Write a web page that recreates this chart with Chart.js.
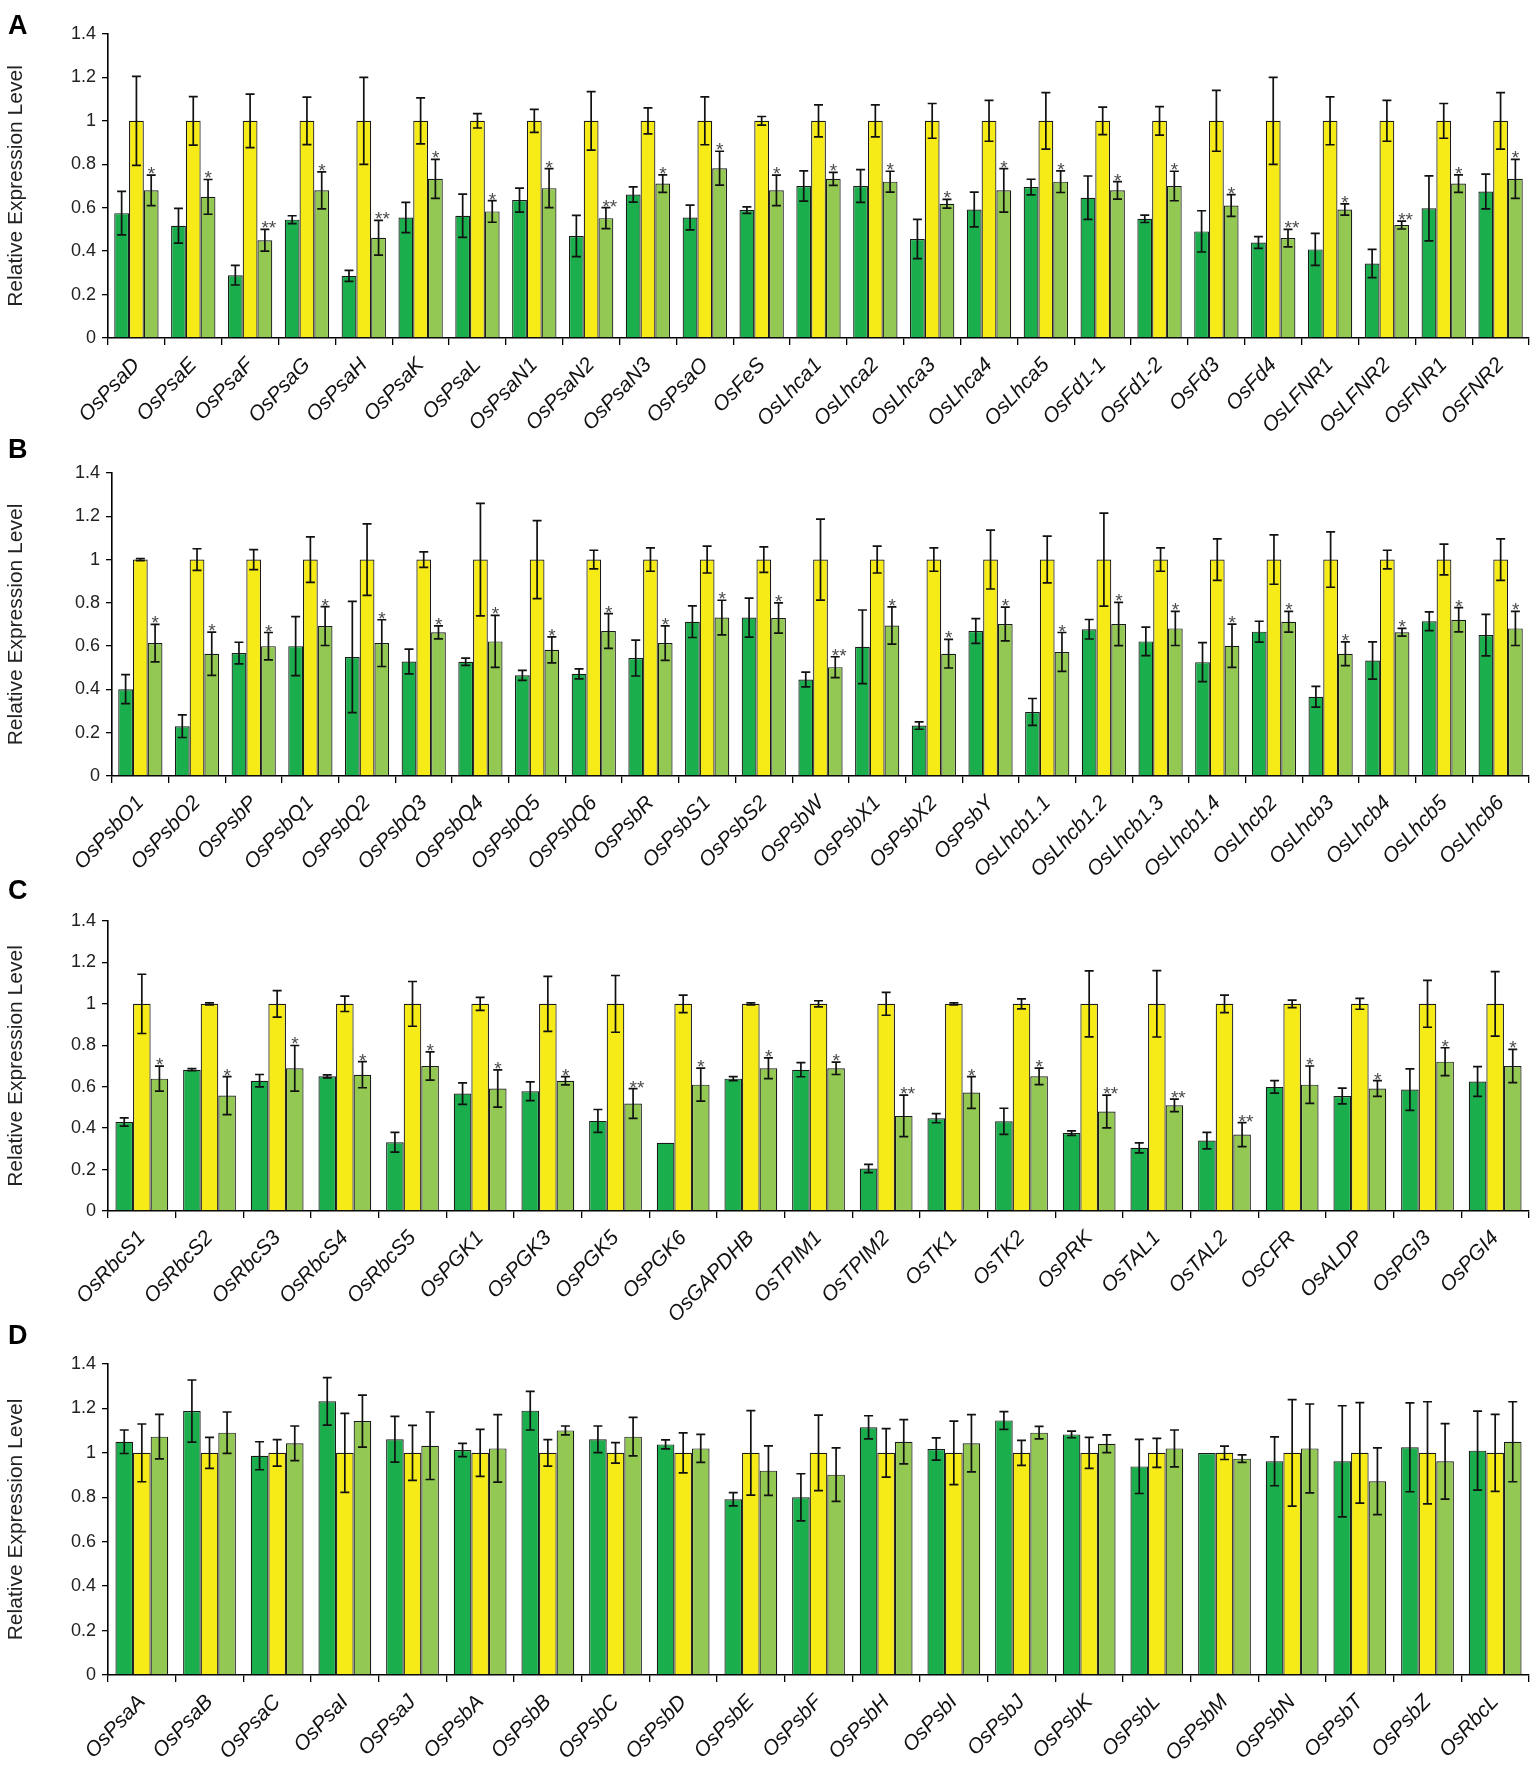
<!DOCTYPE html>
<html>
<head>
<meta charset="utf-8">
<script src="https://cdn.jsdelivr.net/npm/chart.js@4.4.1/dist/chart.umd.min.js"></script>
<style>
	body { margin: 0; background: #fff; }
	#figure { position: relative; width: 1538px; height: 1775px; background: #fff; overflow: hidden; }
	.panel { position: absolute; left: 0; width: 1538px; }
	.letter { position: absolute; left: 8px; font: bold 27px 'Liberation Sans', Arial, sans-serif; line-height: 26px; color: #000; }
</style>
</head>
<body>
<div id="figure">
	<div class="panel" style="top:0px;height:440px"><canvas id="chart-a"></canvas></div>
	<div class="panel" style="top:440px;height:445px"><canvas id="chart-b"></canvas></div>
	<div class="panel" style="top:885px;height:445px"><canvas id="chart-c"></canvas></div>
	<div class="panel" style="top:1330px;height:445px"><canvas id="chart-d"></canvas></div>
	<div class="letter" style="top:12px">A</div>
	<div class="letter" style="top:436px">B</div>
	<div class="letter" style="top:877px">C</div>
	<div class="letter" style="top:1322px">D</div>
</div>
<script>
// panel A
const genesA = ['OsPsaD', 'OsPsaE', 'OsPsaF', 'OsPsaG', 'OsPsaH', 'OsPsaK', 'OsPsaL', 'OsPsaN1', 'OsPsaN2', 'OsPsaN3', 'OsPsaO', 'OsFeS', 'OsLhca1', 'OsLhca2', 'OsLhca3', 'OsLhca4', 'OsLhca5', 'OsFd1-1', 'OsFd1-2', 'OsFd3', 'OsFd4', 'OsLFNR1', 'OsLFNR2', 'OsFNR1', 'OsFNR2']
const firstA = [0.575, 0.517, 0.289, 0.545, 0.286, 0.555, 0.563, 0.635, 0.47, 0.661, 0.555, 0.589, 0.7, 0.7, 0.456, 0.592, 0.695, 0.646, 0.549, 0.491, 0.44, 0.408, 0.343, 0.597, 0.675]
const firstErrA = [0.1, 0.08, 0.045, 0.018, 0.025, 0.07, 0.1, 0.055, 0.095, 0.035, 0.057, 0.015, 0.07, 0.075, 0.09, 0.08, 0.036, 0.1, 0.017, 0.095, 0.027, 0.074, 0.065, 0.15, 0.08]
const secondA = [1, 1, 1, 1, 1, 1, 1, 1, 1, 1, 1, 1, 1, 1, 1, 1, 1, 1, 1, 1, 1, 1, 1, 1, 1]
const secondErrA = [0.205, 0.112, 0.123, 0.109, 0.2, 0.106, 0.033, 0.053, 0.135, 0.06, 0.11, 0.02, 0.074, 0.074, 0.08, 0.094, 0.13, 0.063, 0.066, 0.14, 0.2, 0.11, 0.094, 0.08, 0.13]
const thirdA = [0.68, 0.65, 0.45, 0.68, 0.462, 0.733, 0.583, 0.69, 0.552, 0.711, 0.782, 0.68, 0.733, 0.72, 0.618, 0.68, 0.72, 0.68, 0.7, 0.61, 0.46, 0.592, 0.52, 0.711, 0.733]
const thirdErrA = [0.07, 0.08, 0.05, 0.085, 0.08, 0.09, 0.05, 0.09, 0.048, 0.04, 0.078, 0.07, 0.03, 0.048, 0.02, 0.1, 0.05, 0.04, 0.068, 0.05, 0.04, 0.026, 0.018, 0.04, 0.09]
const starsA = ['*', '*', '**', '*', '**', '*', '*', '*', '**', '*', '*', '*', '*', '*', '*', '*', '*', '*', '*', '*', '**', '*', '**', '*', '*']

// panel B
const genesB = ['OsPsbO1', 'OsPsbO2', 'OsPsbP', 'OsPsbQ1', 'OsPsbQ2', 'OsPsbQ3', 'OsPsbQ4', 'OsPsbQ5', 'OsPsbQ6', 'OsPsbR', 'OsPsbS1', 'OsPsbS2', 'OsPsbW', 'OsPsbX1', 'OsPsbX2', 'OsPsbY', 'OsLhcb1.1', 'OsLhcb1.2', 'OsLhcb1.3', 'OsLhcb1.4', 'OsLhcb2', 'OsLhcb3', 'OsLhcb4', 'OsLhcb5', 'OsLhcb6']
const firstB = [0.401, 0.23, 0.568, 0.6, 0.55, 0.529, 0.528, 0.465, 0.472, 0.545, 0.713, 0.732, 0.446, 0.597, 0.233, 0.67, 0.296, 0.678, 0.622, 0.526, 0.667, 0.366, 0.534, 0.715, 0.651]
const firstErrB = [0.067, 0.052, 0.05, 0.136, 0.257, 0.057, 0.017, 0.023, 0.023, 0.083, 0.073, 0.09, 0.034, 0.17, 0.017, 0.057, 0.062, 0.045, 0.066, 0.09, 0.048, 0.048, 0.086, 0.043, 0.096]
const secondB = [1, 1, 1, 1, 1, 1, 1, 1, 1, 1, 1, 1, 1, 1, 1, 1, 1, 1, 1, 1, 1, 1, 1, 1, 1]
const secondErrB = [0.005, 0.05, 0.046, 0.105, 0.165, 0.036, 0.26, 0.18, 0.043, 0.054, 0.062, 0.059, 0.187, 0.062, 0.054, 0.136, 0.108, 0.215, 0.054, 0.096, 0.114, 0.128, 0.043, 0.071, 0.096]
const thirdB = [0.614, 0.565, 0.6, 0.693, 0.614, 0.664, 0.622, 0.583, 0.67, 0.614, 0.732, 0.73, 0.503, 0.695, 0.565, 0.702, 0.573, 0.702, 0.682, 0.602, 0.713, 0.565, 0.664, 0.722, 0.682]
const thirdErrB = [0.087, 0.1, 0.063, 0.09, 0.108, 0.03, 0.12, 0.06, 0.08, 0.08, 0.08, 0.07, 0.048, 0.086, 0.066, 0.078, 0.09, 0.1, 0.079, 0.1, 0.048, 0.055, 0.018, 0.056, 0.079]
const starsB = ['*', '*', '*', '*', '*', '*', '*', '*', '*', '*', '*', '*', '**', '*', '*', '*', '*', '*', '*', '*', '*', '*', '*', '*', '*']

// panel C
const genesC = ['OsRbcS1', 'OsRbcS2', 'OsRbcS3', 'OsRbcS4', 'OsRbcS5', 'OsPGK1', 'OsPGK3', 'OsPGK5', 'OsPGK6', 'OsGAPDHB', 'OsTPIM1', 'OsTPIM2', 'OsTK1', 'OsTK2', 'OsPRK', 'OsTAL1', 'OsTAL2', 'OsCFR', 'OsALDP', 'OsPGI3', 'OsPGI4']
const firstC = [0.43, 0.682, 0.629, 0.65, 0.332, 0.567, 0.578, 0.435, 0.329, 0.639, 0.682, 0.205, 0.448, 0.433, 0.376, 0.305, 0.34, 0.599, 0.555, 0.586, 0.625]
const firstErrC = [0.02, 0.005, 0.03, 0.007, 0.048, 0.052, 0.045, 0.055, 0, 0.01, 0.034, 0.02, 0.022, 0.063, 0.011, 0.024, 0.04, 0.03, 0.038, 0.1, 0.072]
const secondC = [1, 1, 1, 1, 1, 1, 1, 1, 1, 1, 1, 1, 1, 1, 1, 1, 1, 1, 1, 1, 1]
const secondErrC = [0.143, 0.005, 0.064, 0.037, 0.108, 0.031, 0.133, 0.137, 0.042, 0.005, 0.015, 0.055, 0.005, 0.024, 0.159, 0.16, 0.042, 0.018, 0.026, 0.113, 0.156]
const thirdC = [0.639, 0.557, 0.689, 0.658, 0.7, 0.591, 0.629, 0.519, 0.61, 0.689, 0.689, 0.459, 0.572, 0.65, 0.48, 0.51, 0.369, 0.61, 0.591, 0.721, 0.7]
const thirdErrC = [0.06, 0.092, 0.11, 0.063, 0.068, 0.09, 0.02, 0.072, 0.08, 0.05, 0.03, 0.1, 0.077, 0.04, 0.079, 0.03, 0.058, 0.09, 0.038, 0.067, 0.08]
const starsC = ['*', '*', '*', '*', '*', '*', '*', '**', '*', '*', '*', '**', '*', '*', '**', '**', '**', '*', '*', '*', '*']

// panel D
const genesD = ['OsPsaA', 'OsPsaB', 'OsPsaC', 'OsPsaI', 'OsPsaJ', 'OsPsbA', 'OsPsbB', 'OsPsbC', 'OsPsbD', 'OsPsbE', 'OsPsbF', 'OsPsbH', 'OsPsbI', 'OsPsbJ', 'OsPsbK', 'OsPsbL', 'OsPsbM', 'OsPsbN', 'OsPsbT', 'OsPsbZ', 'OsRbcL']
const firstD = [1.05, 1.188, 0.987, 1.232, 1.061, 1.013, 1.19, 1.061, 1.038, 0.791, 0.8, 1.115, 1.017, 1.146, 1.083, 0.939, 0.999, 0.962, 0.962, 1.025, 1.01]
const firstErrD = [0.053, 0.14, 0.063, 0.107, 0.103, 0.03, 0.087, 0.06, 0.02, 0.03, 0.106, 0.052, 0.05, 0.04, 0.015, 0.122, 0, 0.11, 0.25, 0.2, 0.178]
const secondD = [1, 1, 1, 1, 1, 1, 1, 1, 1, 1, 1, 1, 1, 1, 1, 1, 1, 1, 1, 1, 1]
const secondErrD = [0.13, 0.07, 0.06, 0.178, 0.124, 0.106, 0.06, 0.046, 0.09, 0.19, 0.17, 0.109, 0.143, 0.056, 0.07, 0.065, 0.03, 0.24, 0.226, 0.23, 0.173]
const thirdD = [1.073, 1.091, 1.043, 1.143, 1.032, 1.02, 1.101, 1.073, 1.02, 0.92, 0.902, 1.05, 1.043, 1.091, 1.041, 1.02, 0.974, 1.02, 0.872, 0.962, 1.05]
const thirdErrD = [0.1, 0.093, 0.078, 0.117, 0.152, 0.152, 0.02, 0.087, 0.063, 0.111, 0.12, 0.1, 0.129, 0.028, 0.04, 0.083, 0.017, 0.2, 0.15, 0.17, 0.18]

const yTicks = { min: 0, max: 1.4, step: 0.2 }

// draws the error bars and the significance stars on top of the bars
const errorBarPlugin = {
	id: 'errorBars',
	afterDatasetsDraw(chart) {
		const ctx = chart.ctx
		const yScale = chart.scales.y
		ctx.save()
		chart.data.datasets.forEach((ds, i) => {
			const meta = chart.getDatasetMeta(i)
			meta.data.forEach((bar, j) => {
				const v = ds.data[j]
				const err = ds.errors[j]
				const x = bar.x
				const top = yScale.getPixelForValue(v + err)
				const bottom = yScale.getPixelForValue(v - err)
				if (err > 0) {
					ctx.strokeStyle = '#111'
					ctx.lineWidth = 1.7
					ctx.beginPath()
					ctx.moveTo(x, top)
					ctx.lineTo(x, bottom)
					ctx.moveTo(x - 4.5, top)
					ctx.lineTo(x + 4.5, top)
					ctx.moveTo(x - 4.5, bottom)
					ctx.lineTo(x + 4.5, bottom)
					ctx.stroke()
				}
				if (ds.stars && ds.stars[j]) {
					ctx.fillStyle = '#4a4a4a'
					ctx.font = '19px "Liberation Sans", Arial, sans-serif'
					ctx.textAlign = 'left'
					ctx.textBaseline = 'alphabetic'
					ctx.fillText(ds.stars[j], x - 3.5, top + 5)
				}
			})
		})
		ctx.restore()
	},
}

function drawPanel(id, labels, series, errors, stars, layout) {
	const el = document.getElementById(id)
	const colors = ['#1bae4c', '#f6ea17', '#93c953']
	new Chart(el, {
		type: 'bar',
		data: {
			labels: labels,
			datasets: series.map((values, i) => ({
				data: values,
				errors: errors[i],
				stars: i === 2 ? stars : null,
				backgroundColor: colors[i],
				borderColor: '#1a1a1a',
				borderWidth: 1.2,
				categoryPercentage: 0.78,
				barPercentage: 1.0,
			})),
		},
		options: {
			responsive: true,
			maintainAspectRatio: false,
			animation: false,
			layout: {
				padding: { top: layout.top, right: 9, bottom: 0, left: 0 },
			},
			plugins: {
				legend: { display: false },
				tooltip: { enabled: false },
			},
			scales: {
				x: {
					grid: { offset: true, drawOnChartArea: false, color: '#000', tickLength: 7, lineWidth: 1.3 },
					border: { color: '#000', width: 1.6 },
					ticks: {
						autoSkip: false,
						minRotation: 47,
						maxRotation: 47,
						padding: 8,
						color: '#111',
						font: { family: 'Liberation Sans', size: 21, style: 'italic' },
					},
					afterFit: scale => { scale.height = layout.xh },
				},
				y: {
					min: yTicks.min,
					max: yTicks.max,
					ticks: {
						stepSize: yTicks.step,
						padding: 6,
						color: '#222',
						font: { family: 'Liberation Sans', size: 18 },
						callback: value => String(Number(value.toFixed(1))),
					},
					grid: { drawOnChartArea: false, color: '#000', tickLength: 6, lineWidth: 1.3 },
					border: { color: '#000', width: 1.6 },
					title: {
						display: true,
						text: 'Relative Expression Level',
						color: '#222',
						font: { family: 'Liberation Sans', size: 21 },
					},
					afterFit: scale => { scale.width = layout.yw },
				},
			},
		},
		plugins: [errorBarPlugin],
	})
}

drawPanel('chart-a', genesA, [firstA, secondA, thirdA], [firstErrA, secondErrA, thirdErrA], starsA, { top: 34, xh: 102, yw: 108 })
drawPanel('chart-b', genesB, [firstB, secondB, thirdB], [firstErrB, secondErrB, thirdErrB], starsB, { top: 33, xh: 109, yw: 112 })
drawPanel('chart-c', genesC, [firstC, secondC, thirdC], [firstErrC, secondErrC, thirdErrC], starsC, { top: 36, xh: 119, yw: 108 })
drawPanel('chart-d', genesD, [firstD, secondD, thirdD], [firstErrD, secondErrD, thirdErrD], null, { top: 34, xh: 100, yw: 108 })
</script>
</body>
</html>
